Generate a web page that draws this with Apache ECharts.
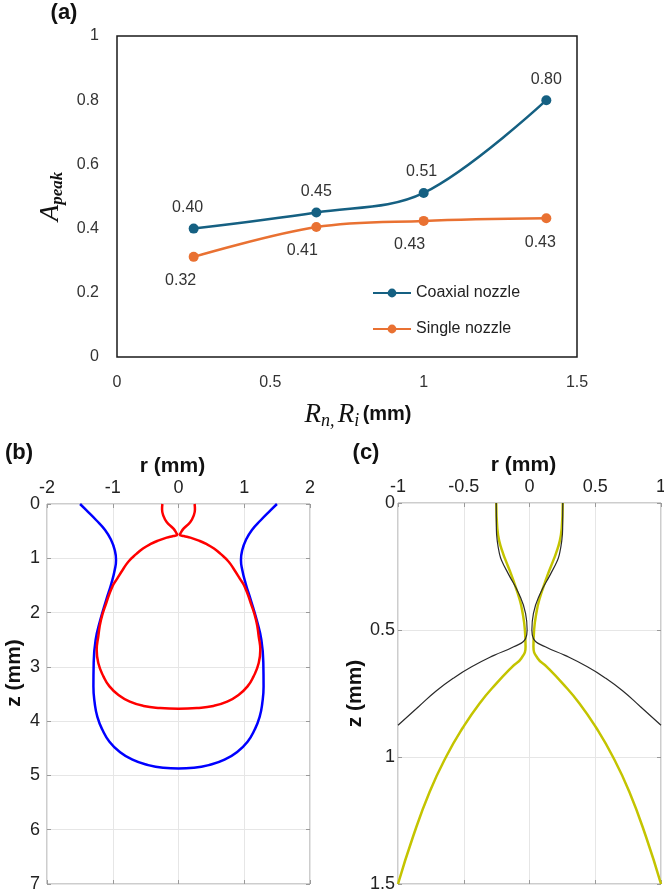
<!DOCTYPE html>
<html><head><meta charset="utf-8">
<script src="https://cdn.jsdelivr.net/npm/echarts/dist/echarts.min.js"></script>
<style>html,body{margin:0;padding:0;background:#fff}#c{width:664px;height:893px}</style>
</head><body><div id="c"></div>
<script>
// ---------- Panel (a) data ----------
const radiusMm = [0.25, 0.65, 1.0, 1.4];
const coaxialPeak = [0.40, 0.45, 0.511, 0.80];
const singlePeak = [0.312, 0.405, 0.424, 0.432];
const coaxialLabels = ['0.40', '0.45', '0.51', '0.80'];
const singleLabels = ['0.32', '0.41', '0.43', '0.43'];
const aXTicks = [0, 0.5, 1, 1.5];
const aYTicks = [0, 0.2, 0.4, 0.6, 0.8, 1];

// ---------- Panel (b) data: profiles r (mm), z (mm) ----------
const blueR = [-1.497,-1.406,-1.254,-1.117,-1.025,-0.97,-0.95,-0.97,-1.02,-1.10,-1.19,-1.26,-1.29,-1.294,-1.274,-1.234,-1.157,-1.05,-0.90,-0.70,-0.46,-0.23,0,
               0.23,0.46,0.70,0.90,1.05,1.157,1.234,1.274,1.294,1.29,1.26,1.19,1.10,1.02,0.97,0.95,0.97,1.025,1.117,1.254,1.406,1.497];
const blueZ = [0,0.11,0.295,0.479,0.663,0.847,1.03,1.215,1.46,1.77,2.14,2.50,2.93,3.36,3.67,3.92,4.16,4.38,4.56,4.71,4.81,4.86,4.874,
               4.86,4.81,4.71,4.56,4.38,4.16,3.92,3.67,3.36,2.93,2.50,2.14,1.77,1.46,1.215,1.03,0.847,0.663,0.479,0.295,0.11,0];
const redR = [-0.245,-0.25,-0.235,-0.18,-0.08,-0.03,-0.02,-0.08,-0.18,-0.30,-0.43,-0.54,-0.64,-0.76,-0.85,-0.93,-1.005,-1.10,-1.18,-1.22,-1.244,-1.22,-1.14,-1.05,-0.91,-0.74,-0.53,-0.28,0,
              0.28,0.53,0.74,0.91,1.05,1.14,1.22,1.244,1.22,1.18,1.10,1.005,0.93,0.85,0.76,0.64,0.54,0.43,0.30,0.18,0.08,0.02,0.03,0.08,0.18,0.235,0.25,0.245];
const redZ = [0,0.1,0.2,0.33,0.45,0.54,0.565,0.59,0.62,0.67,0.74,0.82,0.92,1.06,1.215,1.37,1.52,1.83,2.14,2.44,2.69,2.93,3.18,3.36,3.52,3.64,3.72,3.757,3.77,
              3.757,3.72,3.64,3.52,3.36,3.18,2.93,2.69,2.44,2.14,1.83,1.52,1.37,1.215,1.06,0.92,0.82,0.74,0.67,0.62,0.59,0.565,0.54,0.45,0.33,0.2,0.1,0];

// ---------- Panel (c) data ----------
const blackR = [-1.0,-0.84,-0.71,-0.58,-0.44,-0.27,-0.12,-0.030,-0.018,-0.030,-0.081,-0.16,-0.213,-0.228,-0.245,-0.252,-0.253];
const blackZ = [0.875,0.80,0.74,0.69,0.645,0.60,0.566,0.534,0.5,0.435,0.357,0.28,0.225,0.2,0.15,0.1,0];
const blackR2 = [0.253,0.252,0.245,0.228,0.213,0.16,0.081,0.030,0.018,0.030,0.12,0.27,0.44,0.58,0.71,0.84,1.0];
const blackZ2 = [0,0.1,0.15,0.2,0.225,0.28,0.357,0.435,0.5,0.534,0.566,0.60,0.645,0.69,0.74,0.80,0.875];
const yellowR = [-1.0,-0.886,-0.759,-0.633,-0.506,-0.38,-0.253,-0.132,-0.063,-0.03,-0.035,-0.056,-0.075,-0.106,-0.14,-0.182,-0.20,-0.23,-0.245,-0.253];
const yellowZ = [1.5,1.314,1.137,0.998,0.884,0.789,0.711,0.645,0.612,0.566,0.5,0.422,0.38,0.33,0.28,0.225,0.2,0.15,0.1,0];
const yellowR2 = [0.253,0.245,0.23,0.20,0.182,0.14,0.106,0.075,0.056,0.035,0.03,0.063,0.132,0.253,0.38,0.506,0.633,0.759,0.886,1.0];
const yellowZ2 = [0,0.1,0.15,0.2,0.225,0.28,0.33,0.38,0.422,0.5,0.566,0.612,0.645,0.711,0.789,0.884,0.998,1.137,1.314,1.5];

// ---------- styles ----------
const COAX = '#156082', SINGLE = '#E97132';
const coaxOffsets = [[-6,0],[0,0],[-2,0],[0,0]];
const singleOffsets = [[-13,0],[-14,0],[-14,0],[-6,0]];
const FONT = 'Liberation Sans';
const gridGray = '#9a9a9a';

const chart = echarts.init(document.getElementById('c'), null, {renderer: 'canvas'});

function pairs(xs, ys) { return xs.map((x, i) => [x, ys[i]]); }

function matXAxis(grid, min, max, interval, pos, withLabels, name, nameGap, namePad) {
  return {
    gridIndex: grid, type: 'value', position: pos, min: min, max: max, interval: interval,
    axisLine: {show: false, onZero: false},
    axisTick: {show: true, inside: true, length: 4, lineStyle: {color: gridGray}},
    splitLine: {show: withLabels, lineStyle: {color: '#e6e6e6', width: 1}},
    axisLabel: {show: withLabels, fontSize: 18, color: '#222', fontFamily: FONT, margin: 7},
    name: withLabels ? name : '', nameLocation: 'middle', nameGap: nameGap,
    nameTextStyle: {fontSize: 21, fontWeight: 'bold', color: '#111', fontFamily: FONT, padding: namePad}
  };
}
function matYAxis(grid, min, max, interval, pos, withLabels, name, nameGap, namePad, labMargin) {
  return {
    gridIndex: grid, type: 'value', position: pos, inverse: true, min: min, max: max, interval: interval,
    axisLine: {show: false, onZero: false},
    axisTick: {show: true, inside: true, length: 4, lineStyle: {color: gridGray}},
    splitLine: {show: withLabels, lineStyle: {color: '#e6e6e6', width: 1}},
    axisLabel: {show: withLabels, fontSize: 18, color: '#222', fontFamily: FONT, margin: labMargin},
    name: withLabels ? name : '', nameLocation: 'middle', nameGap: nameGap, nameRotate: 90,
    nameTextStyle: {fontSize: 21, fontWeight: 'bold', color: '#111', fontFamily: FONT, padding: namePad}
  };
}
function curve(name, xi, xs, ys, width, color) {
  return {name: name, type: 'line', xAxisIndex: xi, yAxisIndex: xi, showSymbol: false, symbol: 'none',
          smooth: 0.5, lineStyle: {width: width, color: color}, data: pairs(xs, ys)};
}

const option = {
  animation: false,
  backgroundColor: '#fff',
  grid: [
    {left: 117, top: 36, width: 460, height: 321, show: true, borderColor: '#1a1a1a', borderWidth: 1.5, containLabel: false, outerBoundsMode: 'none'},
    {left: 47, top: 504, width: 263, height: 380, show: true, borderColor: gridGray, borderWidth: 1, containLabel: false, outerBoundsMode: 'none'},
    {left: 398, top: 503, width: 263, height: 381, show: true, borderColor: gridGray, borderWidth: 1, containLabel: false, outerBoundsMode: 'none'}
  ],
  xAxis: [
    {gridIndex: 0, type: 'value', min: aXTicks[0], max: aXTicks[aXTicks.length-1], interval: aXTicks[1]-aXTicks[0],
     axisLine: {show: false, onZero: false}, axisTick: {show: false}, splitLine: {show: false},
     axisLabel: {fontSize: 16, color: '#333', fontFamily: FONT, margin: 18},
     name: '{R|R}{s|n,} {R|R}{s|i} {m|(mm)}', nameLocation: 'middle', nameGap: 42,
     nameTextStyle: {padding: [0, 0, 0, 22], rich: {
       R: {fontFamily: 'Liberation Serif', fontStyle: 'italic', fontSize: 27, color: '#111'},
       s: {fontFamily: 'Liberation Serif', fontStyle: 'italic', fontSize: 18, color: '#111', padding: [13,0,0,0]},
       m: {fontFamily: FONT, fontWeight: 'bold', fontSize: 20, color: '#111'}
     }}},
    matXAxis(1, -2, 2, 1, 'top', true, 'r (mm)', 27, [0, 12, 0, 0]),
    matXAxis(2, -1, 1, 0.5, 'top', true, 'r (mm)', 27, [0, 12, 0, 0]),
    matXAxis(1, -2, 2, 1, 'bottom', false, '', 0, 0),
    matXAxis(2, -1, 1, 0.5, 'bottom', false, '', 0, 0)
  ],
  yAxis: [
    {gridIndex: 0, type: 'value', min: aYTicks[0], max: aYTicks[aYTicks.length-1], interval: aYTicks[1]-aYTicks[0],
     axisLine: {show: false, onZero: false}, axisTick: {show: false}, splitLine: {show: false},
     axisLabel: {fontSize: 16, color: '#333', fontFamily: FONT, margin: 18},
     name: '{A|A}{s|peak}', nameLocation: 'middle', nameGap: 50, nameRotate: 90,
     nameTextStyle: {rich: {
       A: {fontFamily: 'Liberation Serif', fontStyle: 'italic', fontSize: 27, color: '#111'},
       s: {fontFamily: 'Liberation Serif', fontStyle: 'italic', fontWeight: 'bold', fontSize: 17, color: '#111', padding: [13,0,0,0]}
     }}},
    matYAxis(1, 0, 7, 1, 'left', true, 'z (mm)', 22, [0, 0, 0, 42], 7),
    matYAxis(2, 0, 1.5, 0.5, 'left', true, 'z (mm)', 31, 0, 3),
    matYAxis(1, 0, 7, 1, 'right', false, '', 0, 0, 0),
    matYAxis(2, 0, 1.5, 0.5, 'right', false, '', 0, 0, 0)
  ],
  legend: {
    data: ['Coaxial nozzle', 'Single nozzle'],
    orient: 'vertical', left: 367, top: 280, itemWidth: 38, itemHeight: 11, itemGap: 20,
    textStyle: {fontSize: 16, color: '#222', fontFamily: FONT}
  },
  graphic: [
    {type: 'text', x: 64, y: 13, style: {text: '(a)', font: 'bold 22px "Liberation Sans"', fill: '#111', align: 'center', verticalAlign: 'middle', textAlign: 'center', textVerticalAlign: 'middle'}},
    {type: 'text', x: 19, y: 453, style: {text: '(b)', font: 'bold 22px "Liberation Sans"', fill: '#111', align: 'center', verticalAlign: 'middle', textAlign: 'center', textVerticalAlign: 'middle'}},
    {type: 'text', x: 366, y: 453, style: {text: '(c)', font: 'bold 22px "Liberation Sans"', fill: '#111', align: 'center', verticalAlign: 'middle', textAlign: 'center', textVerticalAlign: 'middle'}}
  ],
  series: [
    {name: 'Coaxial nozzle', type: 'line', xAxisIndex: 0, yAxisIndex: 0, smooth: 0.35,
     symbol: 'circle', symbolSize: 10, color: COAX, lineStyle: {width: 2.5, color: COAX}, itemStyle: {color: COAX},
     label: {show: true, position: 'top', distance: 8, fontSize: 16, color: '#333', fontFamily: FONT},
     data: radiusMm.map((x, i) => ({value: [x, coaxialPeak[i]], label: {formatter: coaxialLabels[i], offset: coaxOffsets[i]}})),
     z: 3},
    {name: 'Single nozzle', type: 'line', xAxisIndex: 0, yAxisIndex: 0, smooth: 0.35,
     symbol: 'circle', symbolSize: 10, color: SINGLE, lineStyle: {width: 2.5, color: SINGLE}, itemStyle: {color: SINGLE},
     label: {show: true, position: 'bottom', distance: 11, fontSize: 16, color: '#333', fontFamily: FONT},
     data: radiusMm.map((x, i) => ({value: [x, singlePeak[i]], label: {formatter: singleLabels[i], offset: singleOffsets[i]}})),
     z: 2},
    curve('b-blue', 1, blueR, blueZ, 2.5, '#0000ff'),
    curve('b-red', 1, redR, redZ, 2.5, '#ff0000'),
    curve('c-yellow-l', 2, yellowR, yellowZ, 2.5, '#c4c400'),
    curve('c-yellow-r', 2, yellowR2, yellowZ2, 2.5, '#c4c400'),
    curve('c-black-l', 2, blackR, blackZ, 1.2, '#2a2a2a'),
    curve('c-black-r', 2, blackR2, blackZ2, 1.2, '#2a2a2a')
  ]
};
chart.setOption(option);
</script></body></html>
